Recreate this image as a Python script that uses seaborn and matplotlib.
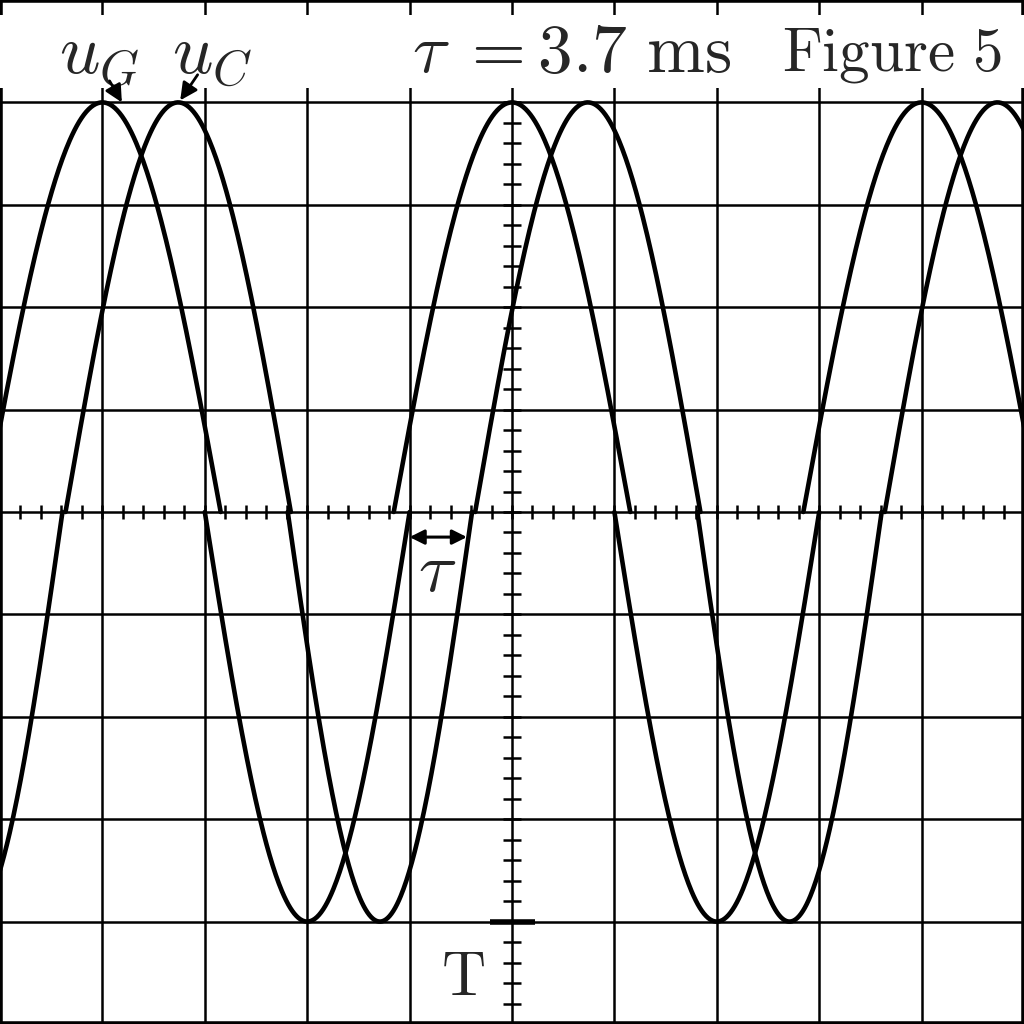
import numpy as np
import pandas as pd
import matplotlib.pyplot as plt
import seaborn as sns
from matplotlib.patches import Rectangle

# Screen values, in divisions (10 x 10 grid, centre at 0)
amplitude = 4.0
ug_peaks = [1.0, 5.0, 9.0]
ug_troughs = [-1.0, 3.0, 7.0, 11.0]
ug_lobe_widths = (2.31, 2.0)   # upper lobe, lower lobe
uc_peaks = [1.74, 5.74, 9.74]
uc_troughs = [-0.29, 3.71, 7.71]
uc_lobe_widths = (2.2, 1.8)
tau_start, tau_end = 4.0, 4.56

title_text = r'$\tau\;=3.7\ \mathrm{ms}$'
figure_text = r'$\mathrm{Figure\ 5}$'
ug_label = r'$u_G$'
uc_label = r'$u_C$'


def build_lobes(name, peaks, troughs, widths):
    parts = []
    for sign, centers, w in [(1, peaks, widths[0]), (-1, troughs, widths[1])]:
        for c in centers:
            x = np.linspace(c - w / 2, c + w / 2, 200)
            y = sign * amplitude * np.cos(np.pi * (x - c) / w)
            parts.append(pd.DataFrame({'x': x, 'y': y, 'lobe': f'{name}_{sign}_{c}'}))
    return parts


df = pd.concat(build_lobes('uG', ug_peaks, ug_troughs, ug_lobe_widths)
               + build_lobes('uC', uc_peaks, uc_troughs, uc_lobe_widths),
               ignore_index=True)

sns.set_style('white')
plt.rcParams['mathtext.fontset'] = 'cm'
plt.rcParams['font.family'] = ['DejaVu Serif']

fig = plt.figure(figsize=(10.24, 10.24), dpi=100)
ax = fig.add_axes([0, 0, 1, 1])

# grid
for k in range(1, 10):
    ax.axvline(k, color='black', lw=1.8, zorder=1)
    ax.axhline(k - 5, color='black', lw=1.8, zorder=1)

# minor ticks on the centre axes
small = np.arange(0, 10.01, 0.2)
ax.vlines(small, -0.07, 0.07, color='black', lw=1.8, zorder=1)
ax.hlines(small - 5, 4.91, 5.09, color='black', lw=1.8, zorder=1)

# trigger level mark
ax.hlines(-4.0, 4.785, 5.225, color='black', lw=4, zorder=2)

# curves
sns.lineplot(data=df, x='x', y='y', units='lobe', estimator=None, sort=False,
             color='black', linewidth=3.3, legend=False, ax=ax, zorder=3)

# white label band across the top row
ax.add_patch(Rectangle((0, 4.14), 10, 0.715, facecolor='white',
                       edgecolor='none', zorder=4))

big = 51
ax.text(0.97, 4.47, ug_label, fontsize=big, ha='center', va='center', zorder=5)
ax.text(2.07, 4.47, uc_label, fontsize=big, ha='center', va='center', zorder=5)
ax.text(4.02, 4.48, title_text, fontsize=50, ha='left', va='center', zorder=5)
ax.text(8.71, 4.46, figure_text, fontsize=44, ha='center', va='center', zorder=5)

ax.annotate('', xy=(1.19, 4.0), xytext=(1.07, 4.21),
            arrowprops=dict(arrowstyle='-|>', color='black', lw=2,
                            mutation_scale=26, shrinkA=0, shrinkB=0), zorder=5)
ax.annotate('', xy=(1.76, 4.02), xytext=(1.93, 4.27),
            arrowprops=dict(arrowstyle='-|>', color='black', lw=2,
                            mutation_scale=26, shrinkA=0, shrinkB=0), zorder=5)

# tau marker
ax.annotate('', xy=(tau_end, -0.245), xytext=(tau_start, -0.245),
            arrowprops=dict(arrowstyle='<|-|>', color='black', lw=2.2,
                            mutation_scale=22, shrinkA=0, shrinkB=0), zorder=5)
ax.text(4.27, -0.58, r'$\tau$', fontsize=big, ha='center', va='center', zorder=5)
ax.text(4.52, -4.55, r'$\mathrm{T}$', fontsize=44, ha='center', va='center', zorder=5)

ax.set_xlim(0, 10)
ax.set_ylim(-5, 5)
ax.set_xticks([])
ax.set_yticks([])
ax.set_xlabel('')
ax.set_ylabel('')
for sp in ax.spines.values():
    sp.set_visible(True)
    sp.set_color('black')
    sp.set_linewidth(4)

fig.savefig('out.png', dpi=100)
